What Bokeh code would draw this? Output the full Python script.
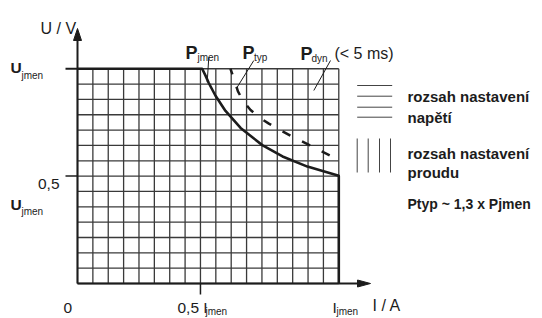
import numpy as np
from bokeh.plotting import figure
from bokeh.models import Range1d
from bokeh.core.properties import value
from bokeh.embed import file_html
from bokeh.resources import INLINE

# ---------------- data (grid-cell units) ----------------
n_cols = 17          # current axis: grid cells up to I_jmen
n_rows = 14          # voltage axis: grid cells up to U_jmen
i_half = 8           # 0,5 I_jmen
u_half = 7           # 0,5 U_jmen

# P_jmen hyperbola (solid)
pjmen_i = [8.11, 8.33, 8.54, 8.98, 9.63, 10.61, 12.02, 13.34, 14.96, 17.0]
pjmen_u = [14.0, 13.55, 13.07, 12.24, 11.25, 10.14, 9.02, 8.28, 7.62, 7.03]
# P_typ curve (dashed)
ptyp_i = [9.95, 10.15, 10.44, 10.80, 11.26, 11.84, 12.45, 13.86, 15.09, 16.42]
ptyp_u = [14.0, 13.43, 12.52, 11.86, 11.31, 10.82, 10.42, 9.63, 9.02, 8.34]

x_tick_pos = [0, i_half, n_cols]
x_tick_main = ["0", "0,5 I", "I"]
x_tick_sub = ["", "jmen", "jmen"]
y_tick_pos = [n_rows, u_half]
y_tick_labels = ["U", "0,5"]

curve_names = ["P", "P", "P"]
curve_subs = ["jmen", "typ", "dyn"]
dyn_note = "(< 5 ms)"
legend_texts = ["rozsah nastavení", "napětí", "rozsah nastavení", "proudu"]
ratio_text = "Ptyp ~ 1,3 x Pjmen"
x_title = "I / A"
y_title = "U / V"

# ---------------- layout ----------------
W, H = 542, 318
SX, SY = 15.37, 15.34          # px per grid cell
OX, OY = 77, 283               # origin in page px
FONT = "Liberation Sans"
INK = "#1c1c1c"


def cx(xr):   # page-pixel x -> data
    return (xr - OX) / SX


def cy(yr):   # page-pixel y -> data
    return (OY - yr) / SY


p = figure(width=W, height=H, output_backend="svg", toolbar_location=None,
           title=None,
           x_range=Range1d(-OX / SX, (W - OX) / SX),
           y_range=Range1d(-(H - OY) / SY, OY / SY),
           x_axis_type=None, y_axis_type=None,
           min_border=0, min_border_left=0, min_border_right=0,
           min_border_top=0, min_border_bottom=0,
           outline_line_color=None, background_fill_color="white")
p.grid.visible = False

# grid
cols = list(range(n_cols + 1))
rows = list(range(n_rows + 1))
p.segment(x0=cols, y0=[0] * len(cols), x1=cols, y1=[n_rows] * len(cols),
          line_color="#3a3a3a", line_width=1.3)
p.segment(x0=[0] * len(rows), y0=rows, x1=[n_cols] * len(rows), y1=rows,
          line_color="#3a3a3a", line_width=1.3)

# axes with arrows
ytip = cy(28)
xtip = cx(370)
hl_y = 12 / SY
hw_y = 4 / SX
hl_x = 13 / SX
hw_x = 3.5 / SY
p.line([0, 0], [0, ytip - hl_y], line_color=INK, line_width=2)
p.line([0, xtip - hl_x], [0, 0], line_color=INK, line_width=2)
p.patch([0, -hw_y, hw_y], [ytip, ytip - hl_y, ytip - hl_y], color=INK)
p.patch([xtip, xtip - hl_x, xtip - hl_x], [0, hw_x, -hw_x], color=INK)

# ticks
tk = 12 / SX
p.segment(x0=[-tk] * len(y_tick_pos), y0=y_tick_pos, x1=[0] * len(y_tick_pos),
          y1=y_tick_pos, line_color=INK, line_width=[2.2, 1.5])
p.segment(x0=[i_half], y0=[0], x1=[i_half], y1=[-11 / SY],
          line_color=INK, line_width=1.5)

# P_jmen limit curve (U limit, hyperbola, I limit)
p.line([0] + pjmen_i + [n_cols], [n_rows] + pjmen_u + [0],
       line_color=INK, line_width=2.6, line_join="round")
# P_typ dashed
p.line(ptyp_i, ptyp_u, line_color=INK, line_width=2.5, line_dash="9 13",
       line_dash_offset=3)

# pointer lines
p.segment(x0=[cx(208.3), cx(253.3), cx(330)], y0=[cy(56.7), cy(60), cy(60)],
          x1=[cx(206.7), cx(236.7), cx(313.3)], y1=[cy(81.7), cy(86.7), cy(90)],
          line_color=INK, line_width=1)

# legend symbols
hy = [cy(85), cy(95.7), cy(106.7), cy(116.7)]
p.segment(x0=[cx(356.7)] * 4, y0=hy, x1=[cx(391.7)] * 4, y1=hy,
          line_color="#444444", line_width=1)
vx = [cx(356.7), cx(367.7), cx(379), cx(390)]
p.segment(x0=vx, y0=[cy(138)] * 4, x1=vx, y1=[cy(172)] * 4,
          line_color="#444444", line_width=1)


def txt(xs, ys, texts, size, bold=False, align="left"):
    p.text(x=xs, y=ys, text=texts, text_font=value(FONT), text_font_size=size,
           text_font_style="bold" if bold else "normal", text_color=INK,
           text_align=align, text_baseline="alphabetic")


# axis titles
txt([cx(40)], [cy(28)], [y_title], "16px")
txt([cx(372)], [cy(305)], [x_title], "16px")

# y tick labels
txt([cx(10), cx(10)], [cy(67), cy(203.5)], ["U", "U"], "15.5px", bold=True)
txt([cx(21), cx(21)], [cy(75), cy(211)], ["jmen", "jmen"], "10px")
txt([cx(59)], [cy(183)], [y_tick_labels[1]], "15.5px", align="right")

# x tick labels (kept inside the page bottom)
txt([cx(63), cx(177), cx(332)], [cy(307)] * 3, x_tick_main, "15.5px")
txt([cx(205), cx(336)], [cy(311)] * 2, x_tick_sub[1:], "10px")

# curve labels
txt([cx(185), cx(242), cx(300)], [cy(52), cy(52), cy(53)], curve_names, "18px", bold=True)
txt([cx(197), cx(253.5), cx(311)], [cy(57), cy(57), cy(58)], curve_subs, "10px")
txt([cx(334)], [cy(53)], [dyn_note], "16px")

# legend texts
txt([cx(407)] * 4, [cy(96), cy(117), cy(153), cy(172)], legend_texts,
    "15px", bold=True)
txt([cx(407)], [cy(203)], [ratio_text], "14px", bold=True)

open("out.html", "w").write(file_html(p, INLINE))
